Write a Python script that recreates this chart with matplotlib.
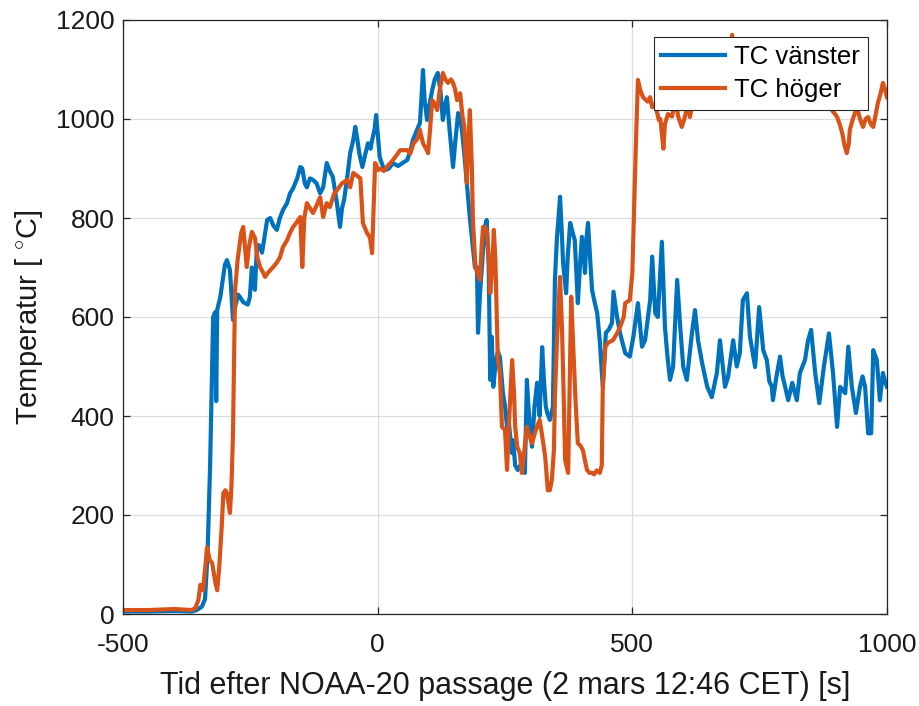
import matplotlib
matplotlib.use("Agg")
import matplotlib.pyplot as plt

plt.rcParams['font.family'] = ['Liberation Sans', 'DejaVu Sans']
plt.rcParams['mathtext.fontset'] = 'custom'
plt.rcParams['mathtext.rm'] = 'Liberation Sans'
plt.rcParams['mathtext.it'] = 'Liberation Sans:italic'
plt.rcParams['axes.unicode_minus'] = False

# Thermocouple readings as (time [s] after the pass, temperature [°C])
tc_left = [
    (-500, 5), (-450, 5), (-400, 6), (-365, 5), (-355, 8), (-345, 15), (-339, 30),
    (-334, 120), (-329, 300), (-323, 600), (-319, 610), (-317, 430), (-315, 615),
    (-309, 640), (-300, 705), (-296, 715), (-290, 695), (-284, 594), (-280, 620),
    (-274, 645), (-270, 640), (-264, 630), (-255, 625), (-251, 640), (-247, 700),
    (-245, 675), (-241, 655), (-237, 745), (-233, 745), (-227, 730), (-221, 770),
    (-217, 796), (-211, 800), (-205, 785), (-198, 776), (-192, 800), (-186, 816),
    (-178, 830), (-172, 850), (-166, 860), (-158, 880), (-152, 903), (-148, 900),
    (-143, 870), (-139, 862), (-133, 880), (-127, 877), (-120, 870), (-113, 850),
    (-107, 862), (-100, 911), (-94, 895), (-88, 883), (-80, 830), (-74, 782),
    (-70, 820), (-66, 836), (-60, 880), (-54, 931), (-48, 957), (-44, 984),
    (-40, 960), (-36, 930), (-30, 903), (-24, 930), (-19, 951), (-14, 940),
    (-11, 957), (-6, 980), (-3, 1008), (1, 960), (4, 923), (10, 905), (15, 897),
    (22, 900), (30, 911), (40, 905), (50, 912), (58, 917), (64, 935), (69, 957),
    (76, 975), (83, 992), (87, 1060), (89, 1099), (92, 1040), (97, 998), (102, 1030),
    (107, 1058), (112, 1080), (118, 1093), (123, 1060), (128, 998), (133, 1030),
    (136, 1044), (141, 980), (148, 903), (152, 950), (158, 1012), (162, 1004),
    (166, 972), (170, 930), (175, 871), (181, 800), (187, 741), (191, 700),
    (195, 701), (197, 568), (201, 648), (206, 720), (210, 780), (214, 796),
    (218, 700), (221, 473), (224, 560), (227, 459), (232, 510), (236, 530),
    (240, 519), (246, 446), (250, 420), (254, 378), (256, 406), (260, 360),
    (264, 325), (266, 351), (270, 300), (275, 291), (280, 300), (285, 290),
    (289, 285), (293, 473), (296, 420), (299, 380), (303, 338), (308, 420),
    (313, 467), (318, 400), (323, 539), (326, 480), (330, 420), (333, 406),
    (338, 392), (344, 418), (348, 675), (352, 760), (355, 800), (358, 843),
    (362, 760), (364, 709), (370, 648), (373, 720), (378, 790), (383, 770),
    (387, 755), (393, 628), (397, 700), (401, 762), (405, 720), (407, 689),
    (410, 760), (413, 790), (417, 720), (421, 654), (426, 630), (431, 608),
    (436, 553), (442, 459), (448, 568), (454, 575), (460, 588), (463, 651),
    (470, 600), (476, 567), (486, 527), (495, 520), (502, 560), (511, 628),
    (519, 540), (525, 553), (535, 634), (539, 722), (545, 608), (550, 600),
    (558, 752), (564, 580), (569, 520), (574, 473), (580, 499), (588, 675),
    (594, 580), (600, 499), (607, 473), (612, 520), (617, 567), (623, 614),
    (629, 553), (637, 507), (647, 459), (656, 438), (666, 487), (672, 553),
    (682, 459), (688, 479), (698, 553), (705, 500), (711, 527), (717, 634),
    (725, 648), (731, 560), (741, 499), (749, 620), (757, 533), (764, 513),
    (769, 470), (774, 459), (776, 432), (783, 480), (790, 520), (795, 480),
    (800, 459), (806, 432), (814, 467), (823, 432), (829, 487), (839, 513),
    (845, 553), (851, 574), (859, 487), (867, 426), (876, 499), (886, 567),
    (894, 487), (902, 378), (908, 459), (918, 446), (924, 540), (931, 459),
    (939, 406), (947, 459), (952, 480), (957, 459), (963, 365), (969, 365),
    (973, 533), (980, 513), (986, 432), (992, 487), (996, 470), (1000, 459),
]

tc_right = [
    (-500, 8), (-450, 8), (-400, 10), (-365, 8), (-358, 12), (-352, 28), (-348, 59),
    (-343, 48), (-337, 110), (-335, 135), (-330, 110), (-325, 103), (-318, 60),
    (-315, 48), (-311, 95), (-306, 180), (-303, 244), (-299, 250), (-296, 244),
    (-290, 204), (-287, 260), (-284, 366), (-280, 654), (-275, 715), (-268, 770),
    (-264, 782), (-257, 701), (-253, 740), (-247, 772), (-241, 760), (-236, 720),
    (-231, 701), (-225, 690), (-221, 681), (-215, 690), (-205, 701), (-198, 710),
    (-192, 720), (-186, 741), (-178, 755), (-172, 770), (-166, 782), (-160, 790),
    (-152, 802), (-148, 701), (-144, 800), (-139, 830), (-127, 810), (-120, 825),
    (-113, 842), (-107, 802), (-100, 830), (-94, 822), (-85, 850), (-80, 856),
    (-70, 870), (-60, 877), (-54, 862), (-48, 891), (-40, 885), (-34, 880),
    (-29, 790), (-21, 770), (-15, 760), (-11, 729), (-5, 911), (1, 897), (5, 900),
    (12, 895), (18, 903), (30, 917), (40, 931), (44, 937), (58, 937), (64, 930),
    (70, 950), (78, 960), (83, 978), (89, 951), (95, 940), (99, 931), (103, 980),
    (107, 1038), (112, 1030), (117, 1018), (122, 1060), (128, 1093), (133, 1080),
    (138, 1073), (144, 1080), (148, 1073), (152, 1060), (156, 1038), (162, 1052),
    (166, 1010), (170, 984), (175, 871), (178, 950), (181, 1018), (185, 900),
    (187, 796), (192, 700), (201, 675), (204, 740), (207, 782), (211, 782),
    (215, 770), (219, 700), (221, 648), (225, 700), (228, 776), (231, 720),
    (236, 513), (240, 487), (244, 378), (250, 372), (254, 291), (258, 390),
    (264, 513), (268, 440), (270, 378), (274, 338), (279, 325), (283, 285),
    (288, 330), (293, 378), (298, 360), (303, 345), (310, 370), (318, 392),
    (323, 360), (329, 317), (334, 250), (338, 250), (342, 271), (346, 330),
    (348, 438), (352, 553), (358, 681), (362, 574), (365, 450), (368, 311),
    (374, 285), (377, 460), (380, 641), (384, 539), (389, 420), (393, 345),
    (398, 340), (403, 331), (407, 310), (411, 291), (416, 285), (421, 285),
    (425, 282), (430, 290), (436, 285), (440, 300), (442, 459), (447, 539),
    (452, 548), (462, 553), (470, 567), (476, 580), (483, 600), (486, 628),
    (495, 634), (500, 689), (503, 800), (505, 877), (507, 950), (511, 1079),
    (515, 1060), (521, 1044), (525, 1040), (530, 1035), (535, 1044), (539, 1024),
    (545, 1030), (552, 998), (555, 1000), (558, 970), (561, 940), (564, 990),
    (570, 1010), (578, 1005), (585, 1040), (590, 1005), (597, 984), (602, 1000),
    (609, 1030), (613, 1004), (620, 1040), (635, 1050), (650, 1060), (665, 1050),
    (680, 1070), (690, 1100), (696, 1170), (700, 1100), (710, 1060), (730, 1050),
    (750, 1060), (770, 1040), (790, 1050), (810, 1030), (830, 1050), (850, 1040),
    (870, 1030), (890, 1020), (898, 1010), (902, 1004), (907, 990), (912, 972),
    (916, 950), (921, 931), (925, 950), (927, 978), (933, 1000), (941, 1024),
    (947, 1000), (953, 984), (958, 1000), (963, 1004), (968, 990), (973, 984),
    (978, 1010), (982, 1032), (987, 1050), (992, 1073), (996, 1060), (1000, 1044),
]

x_ticks = [-500, 0, 500, 1000]
y_ticks = [0, 200, 400, 600, 800, 1000, 1200]

blue = '#0072BD'
orange = '#D95319'
axis_color = '#262626'

t_left, temp_left = zip(*tc_left)
t_right, temp_right = zip(*tc_right)

fig = plt.figure(figsize=(9.2, 7.06), dpi=100)
ax = fig.add_axes([123 / 920, 1 - 614 / 706, (887 - 123) / 920, (614 - 20) / 706])

ax.plot(t_left, temp_left, color=blue, lw=3.0, label='TC vänster', solid_joinstyle='round')
ax.plot(t_right, temp_right, color=orange, lw=3.0, label='TC höger', solid_joinstyle='round')

ax.set_xlim(-500, 1000)
ax.set_ylim(0, 1200)
ax.set_xticks(x_ticks)
ax.set_yticks(y_ticks)
ax.grid(True, color='#dcdcdc', lw=0.9)
ax.set_axisbelow(True)

for s in ax.spines.values():
    s.set_color(axis_color)
    s.set_linewidth(0.9)
ax.tick_params(direction='in', length=5, width=0.9, color=axis_color,
               labelcolor='#1a1a1a', labelsize=19, top=True, right=True)
ax.tick_params(axis='y', pad=6)
ax.tick_params(axis='x', pad=14)

ax.set_xlabel('Tid efter NOAA-20 passage (2 mars 12:46 CET) [s]', fontsize=22,
              color='#1a1a1a', labelpad=10)
ax.set_ylabel('Temperatur [ $^{\\circ}$C]', fontsize=21, color='#1a1a1a', labelpad=8)

leg = ax.legend(loc='upper right', bbox_to_anchor=(0.975, 0.971), borderaxespad=0,
                fontsize=18.5, handlelength=2.5, handletextpad=0.35, borderpad=0.3,
                labelspacing=0.35, fancybox=False, framealpha=1, edgecolor=axis_color)
leg.get_frame().set_linewidth(0.8)
for text in leg.get_texts():
    text.set_color('#000000')

fig.savefig('out.png', dpi=100)
